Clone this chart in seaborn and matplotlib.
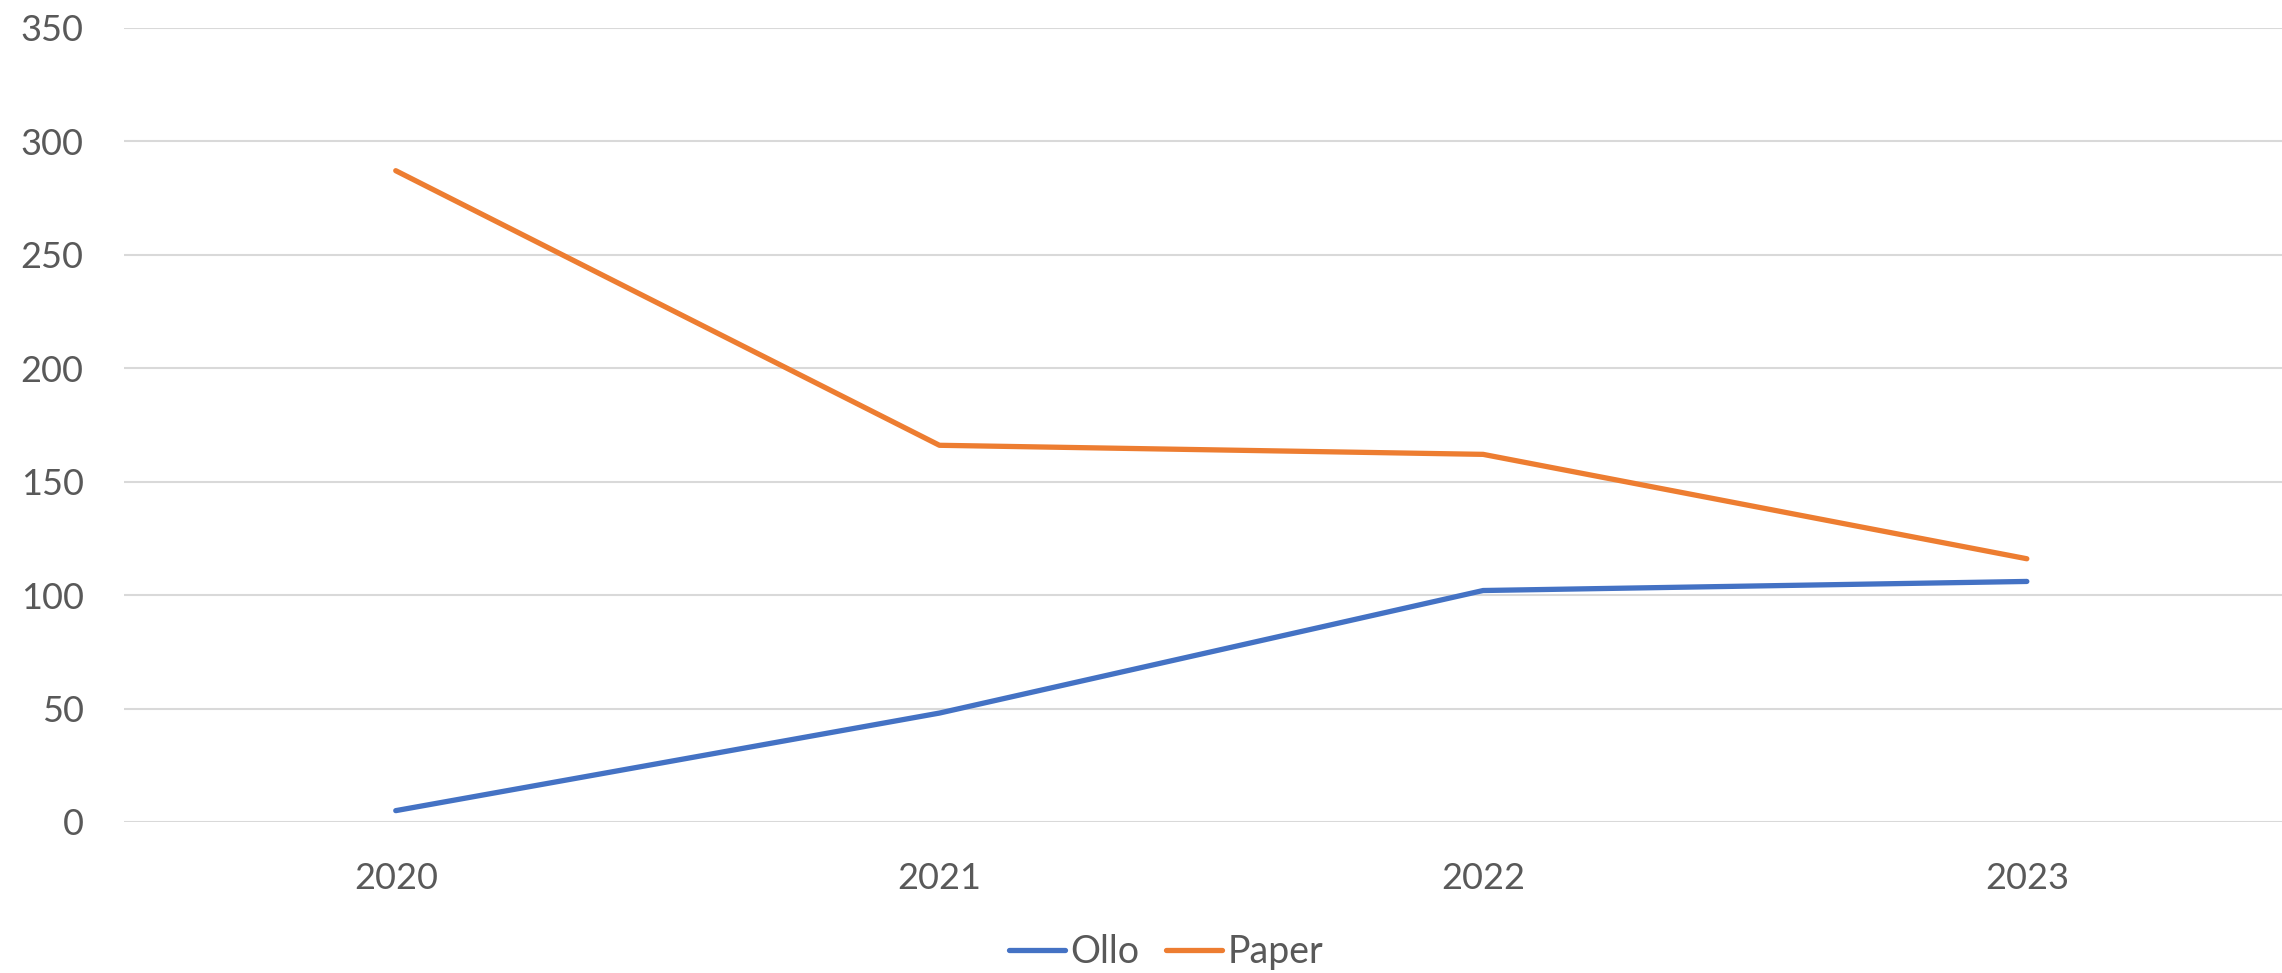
import numpy as np
import pandas as pd
import matplotlib
matplotlib.use("Agg")
import matplotlib.pyplot as plt
import seaborn as sns

# data
years = ["2020", "2021", "2022", "2023"]
ollo = [5, 48, 102, 106]
paper = [287, 166, 162, 116]

df = pd.DataFrame({
    "year": years * 2,
    "value": ollo + paper,
    "series": ["Ollo"] * 4 + ["Paper"] * 4,
})

sns.set_style("white")
plt.rcParams['font.family'] = ['Lato', 'DejaVu Sans']

fig = plt.figure(figsize=(22.82, 9.73), dpi=100)
ax = fig.add_axes([0.0543, 0.1552, 0.953, 0.8163])

sns.lineplot(data=df, x="year", y="value", hue="series",
             palette={"Ollo": "#4472C4", "Paper": "#ED7D31"},
             linewidth=3.8, sort=False, ax=ax, legend=True)
for ln in ax.lines:
    ln.set_solid_capstyle("round")

ax.set_ylim(0, 350)
ax.set_yticks(np.arange(0, 351, 50))
ax.set_xlim(-0.5, 3.5)
ax.yaxis.grid(True, color="#D9D9D9", linewidth=1.5)
ax.set_axisbelow(True)
for s in ax.spines.values():
    s.set_visible(False)
ax.tick_params(axis="both", length=0, labelsize=26, labelcolor="#595959")
ax.tick_params(axis="y", pad=29)
ax.tick_params(axis="x", pad=29)
ax.set_xlabel("")
ax.set_ylabel("")

h, l = ax.get_legend_handles_labels()
ax.get_legend().remove()
leg = fig.legend(h, l, loc="center", bbox_to_anchor=(0.511, 0.0216), ncol=2,
                 frameon=False, fontsize=27, handlelength=1.5,
                 handletextpad=0.15, columnspacing=0.7)
for t in leg.get_texts():
    t.set_color("#595959")
for hl in leg.get_lines():
    hl.set_linewidth(3.8)
    hl.set_solid_capstyle("round")

fig.savefig("out.png", dpi=100)
